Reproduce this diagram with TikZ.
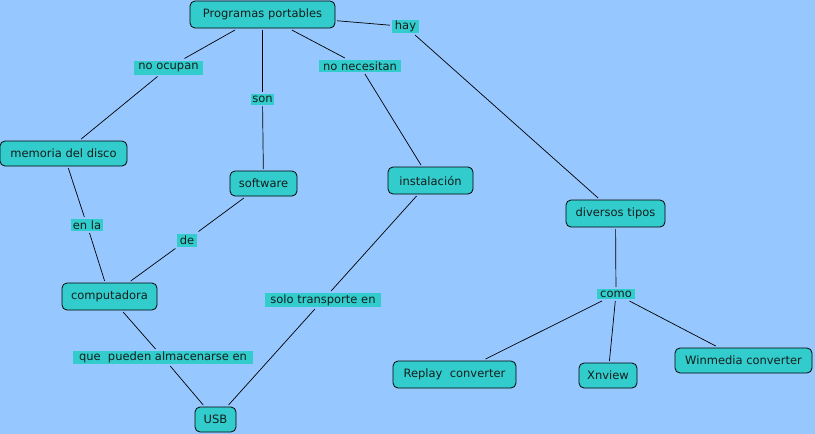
\documentclass[tikz,border=0pt]{standalone}
\usepackage{fontspec}
\setmainfont{DejaVu Sans}
\definecolor{bgblue}{RGB}{150,200,255}
\definecolor{tealfill}{RGB}{51,204,204}
\definecolor{inkc}{RGB}{20,30,30}
\begin{document}
\begin{tikzpicture}[x=1pt,y=-1pt,
  concept/.style={draw=black, line width=0.8pt, fill=tealfill, rounded corners=5pt,
    inner sep=0pt, text=inkc, font=\fontsize{11.5}{13}\selectfont, outer sep=2pt},
  linkl/.style={fill=tealfill, inner sep=0.5pt, text=inkc, font=\fontsize{11.5}{13}\selectfont, outer sep=2pt},
  edge/.style={line width=0.7pt, draw=black}]
\fill[bgblue] (0,0) rectangle (815,434);
\useasboundingbox (0,0) rectangle (815,434);
% concepts
\node[concept, minimum width=145, minimum height=27] (prog) at (262.5,14.5) {Programas portables};
\node[concept, minimum width=127, minimum height=25] (mem) at (63.5,153.5) {memoria del disco};
\node[concept, minimum width=67, minimum height=25] (soft) at (263.5,183.5) {software};
\node[concept, minimum width=85, minimum height=27] (inst) at (430.5,180.5) {instalación\ };
\node[concept, minimum width=99, minimum height=27] (div) at (615.5,213.5) {diversos tipos};
\node[concept, minimum width=95, minimum height=27] (comp) at (109.5,296.5) {computadora};
\node[concept, minimum width=41, minimum height=25] (usb) at (215.5,419.5) {USB};
\node[concept, minimum width=123, minimum height=27] (rep) at (454.5,374.5) {Replay\ \ converter};
\node[concept, minimum width=58, minimum height=25] (xnv) at (608,375.5) {Xnview};
\node[concept, minimum width=137, minimum height=25] (winm) at (743.5,360.5) {Winmedia converter};
% link labels
\node[linkl, minimum width=27, minimum height=13] (hay) at (405.5,26.5) {hay};
\node[linkl, minimum width=69, minimum height=14] (noocu) at (168.5,67.5) {no ocupan\ };
\node[linkl, minimum width=23, minimum height=11] (son) at (262.5,99) {son};
\node[linkl, minimum width=82, minimum height=12] (nonec) at (360,66) {no necesitan\ };
\node[linkl, minimum width=32, minimum height=12] (enla) at (87,225) {en la};
\node[linkl, minimum width=20, minimum height=13] (de) at (187,240) {de\ };
\node[linkl, minimum width=116, minimum height=14] (solo) at (323,300) {solo transporte en\ };
\node[linkl, minimum width=180, minimum height=13] (que) at (163,357.5) {que\ \ pueden almacenarse en};
\node[linkl, minimum width=38, minimum height=10] (como) at (616,294) {como\ };
% connectors
\draw[edge] (prog) -- (hay);
\draw[edge] (hay) -- (div);
\draw[edge] (prog) -- (noocu);
\draw[edge] (noocu) -- (mem);
\draw[edge] (prog) -- (son);
\draw[edge] (son) -- (soft);
\draw[edge] (prog) -- (nonec);
\draw[edge] (nonec) -- (inst);
\draw[edge] (mem) -- (enla);
\draw[edge] (enla) -- (comp);
\draw[edge] (soft) -- (de);
\draw[edge] (de) -- (comp);
\draw[edge] (comp) -- (que);
\draw[edge] (que) -- (usb);
\draw[edge] (inst) -- (solo);
\draw[edge] (solo) -- (usb);
\draw[edge] (div) -- (como);
\draw[edge] (como) -- (rep);
\draw[edge] (como) -- (xnv);
\draw[edge] (como) -- (winm);
\end{tikzpicture}
\end{document}
